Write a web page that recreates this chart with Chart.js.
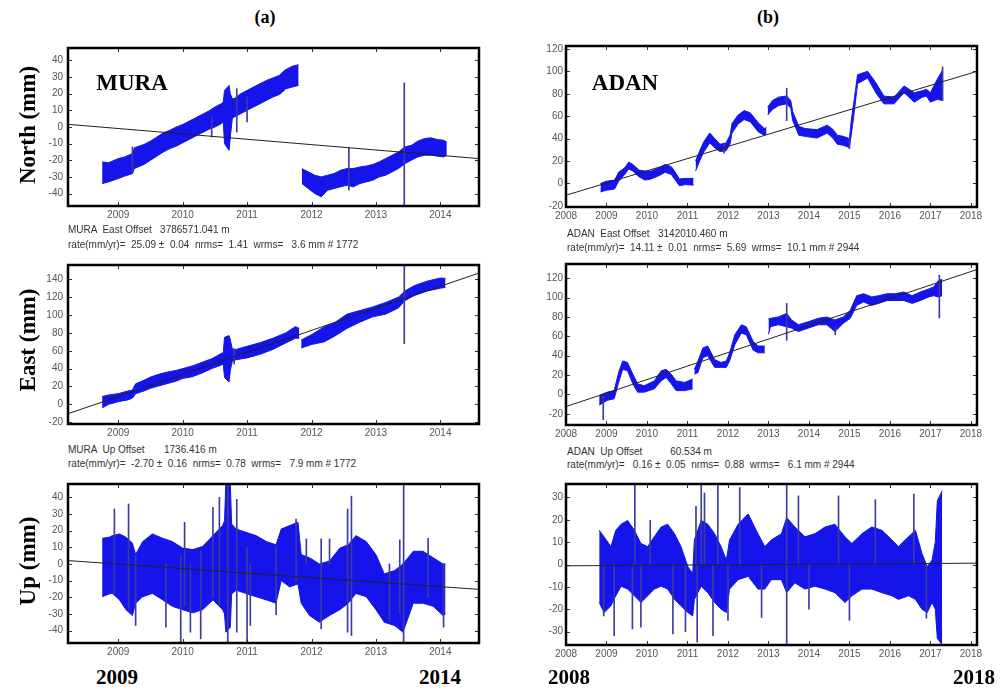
<!DOCTYPE html>
<html>
<head>
<meta charset="utf-8">
<script src="https://cdn.jsdelivr.net/npm/chart.js@4.4.0/dist/chart.umd.min.js"></script>
<style>
	body { margin: 0; background: #fff; width: 1000px; height: 693px; position: relative; overflow: hidden; }
	.txt { position: absolute; white-space: pre; line-height: 1; }
	.small { font-family: "Liberation Sans", Arial, sans-serif; font-size: 10px; color: #333; }
	.serif { font-family: "Liberation Serif", "Times New Roman", serif; font-weight: bold; color: #000; }
</style>
</head>
<body>
<script>
// tick labels
const muraYearTicks = [2009, 2010, 2011, 2012, 2013, 2014];
const adanYearTicks = [2008, 2009, 2010, 2011, 2012, 2013, 2014, 2015, 2016, 2017, 2018];
const muraNorthTicks = [-40, -30, -20, -10, 0, 10, 20, 30, 40];
const muraEastTicks = [-20, 0, 20, 40, 60, 80, 100, 120, 140];
const muraUpTicks = [-40, -30, -20, -10, 0, 10, 20, 30, 40];
const adanNorthTicks = [-20, 0, 20, 40, 60, 80, 100, 120];
const adanEastTicks = [-20, 0, 20, 40, 60, 80, 100, 120];
const adanUpTicks = [-30, -20, -10, 0, 10, 20, 30];

// MURA north (mm) - spread of the daily solutions, null = data gap
const muraNorthYears = [2008.75,2008.85,2009.0,2009.1,2009.22,2009.25,2009.4,2009.5,2009.6,2009.7,2009.8,2009.9,2010.0,2010.1,2010.2,2010.3,2010.4,2010.5,2010.6,2010.63,2010.65,2010.72,2010.74,2010.77,2010.8,2010.9,2011.0,2011.1,2011.2,2011.3,2011.4,2011.5,2011.55,2011.6,2011.7,2011.8,null,2011.85,2011.95,2012.05,2012.15,2012.25,2012.35,2012.45,2012.55,2012.65,2012.75,2012.85,2012.95,2013.05,2013.15,2013.25,2013.35,2013.45,2013.55,2013.65,2013.75,2013.85,2013.95,2014.05,2014.1];
const muraNorthLow = [-34,-33,-31,-29.5,-28,-25,-22.5,-20,-17.5,-15,-13,-11.5,-9.5,-7.5,-5.5,-3.5,-1.5,0,2,3,-10,-14,-6,5,6,8,10,12,14,16,18,19.5,21,23,24,25,null,-34,-37,-40,-42,-38,-37,-36,-35,-36,-34,-33,-32,-30,-29,-27,-25,-22,-20,-18,-17,-17,-17.5,-18,-17];
const muraNorthHigh = [-21,-21.5,-19,-18,-16,-12.5,-10.5,-8.5,-6,-3.5,-2,0,1.5,3.5,5.5,7.5,9.5,12,14,15,22,25,20,17,17,20,22,24,26,28,29.5,31,33,34.5,36.5,37.5,null,-25,-27,-29,-30,-29,-28,-26,-25,-25,-24,-23.5,-22.5,-21,-19,-17,-15,-12,-11,-8.5,-7,-6.5,-7.5,-8,-9];
const muraNorthSpikeYears = [2009.22, 2010.45, 2010.84, 2011.0, 2012.58, 2013.44];
const muraNorthSpikeLow = [-28, -6, -3, 3, -38, -48];
const muraNorthSpikeHigh = [-12, 6, 23, 18, -12.5, 26.5];
const muraNorthTrend = [1.6, -19];

// MURA east (mm)
const muraEastYears = [2008.75,2008.85,2009.0,2009.15,2009.22,2009.27,2009.4,2009.5,2009.6,2009.75,2009.9,2010.0,2010.15,2010.3,2010.45,2010.6,2010.63,2010.65,2010.72,2010.74,2010.77,2010.83,2011.0,2011.2,2011.4,2011.6,2011.75,2011.81,null,2011.84,2012.0,2012.2,2012.35,2012.55,2012.75,2012.95,2013.15,2013.35,2013.45,2013.6,2013.8,2014.0,2014.08];
const muraEastLow = [-4,0,3,5,7,12,15,18,20,23,26,29,31,35,40,44,45,30,25,38,48,50,52,56,61.5,68.7,74,74,null,63,67,70,76,85,92,98,101,108,116,122,127,130,131];
const muraEastHigh = [8.7,10.5,12,15,16,23,27,30.5,33,36,38,40,43,47,51,57,58,75,77,72,62,61.5,65,69,74,80,87,85,null,72,78,87,91,101,105,109,114,120,127,133,138,141.5,141];
const muraEastSpikeYears = [2010.8, 2013.44];
const muraEastSpikeLow = [45, 68];
const muraEastSpikeHigh = [62, 160];
const muraEastTrend = [-10.5, 147];

// MURA up (mm)
const muraUpYears = [2008.75,2008.86,2008.91,2009.02,2009.12,2009.22,2009.27,2009.38,2009.53,2009.69,2009.84,2010.0,2010.16,2010.31,2010.47,2010.62,2010.65,2010.67,2010.74,2010.76,2010.83,2010.98,2011.14,2011.3,2011.45,2011.53,2011.66,2011.79,2011.84,2011.97,2012.12,2012.28,2012.44,2012.57,2012.69,2012.85,2013.0,2013.13,2013.29,2013.42,2013.58,2013.73,2013.89,2014.04,2014.08];
const muraUpLow = [-19.7,-18,-17.7,-21.6,-27.5,-31,-23.6,-19.7,-17.7,-21.6,-25.5,-27.5,-29.4,-27.5,-21.6,-27.5,-30,-41,-38,-18,-15.8,-17.7,-19.7,-21.6,-23.6,-10,-13.8,-12,-23.6,-31,-35,-31,-27.5,-23.6,-17.7,-19.7,-27.5,-35,-37,-41,-23.6,-23.6,-25.5,-31,-30];
const muraUpHigh = [15.4,16,17,18,16,12.5,5.6,13.4,18,15.4,13.4,9.5,8.6,10.5,17,23,26,48,48,24,21,19,17,13.4,11.5,21,23,25,5.6,3.7,0,1.7,9.5,11.5,17,13.4,5.6,-6,-4,0,7.6,7.6,3.7,0,0];
const muraUpSpikeYears = [2008.94,2009.16,2009.27,2009.74,2009.97,2010.03,2010.12,2010.28,2010.47,2010.57,2010.7,2010.84,2011.0,2011.05,2011.45,2011.76,2011.92,2012.15,2012.28,2012.56,2012.62,2013.21,2013.37,2013.43,2013.81,2014.05];
const muraUpSpikeLow = [-18,-27,-37,-38,-48,-25,-41,-45,-20,-25,-48,-41,-48,-37,-30.5,-10,0,-39,0,-41,-43,-35,-30,-48,-20,-38];
const muraUpSpikeHigh = [33,36,5,0,5,25,0,8,34,40,48,38.8,10,0,10,27,15,15,15,33,40.7,0,14.4,48,15.4,0];
const muraUpTrend = [2, -15.3];

// ADAN north (mm)
const adanNorthYears = [2008.85,2009.0,2009.2,2009.3,2009.45,2009.55,2009.65,2009.8,2009.95,2010.1,2010.3,2010.45,2010.6,2010.7,2010.8,2010.95,2011.15,null,2011.2,2011.3,2011.4,2011.55,2011.7,2011.8,2011.95,2012.05,2012.1,2012.25,2012.4,2012.55,2012.75,2012.9,2012.95,null,2012.98,2013.1,2013.25,2013.45,2013.55,2013.6,2013.75,2013.9,2014.2,2014.45,2014.6,2014.7,2014.85,2015.0,2015.05,2015.1,2015.2,2015.45,2015.65,2015.85,2016.1,2016.35,2016.6,2016.8,2016.9,2017.0,2017.17,2017.3];
const adanNorthLow = [-7.5,-6,-5,2,8,13,11,6,3,4,7,10,8,3,-2,-1,-1.5,null,11,20,28,36,31,28.5,29,35,45,53,57,55,46,43,44,null,61,66,69.5,71,67,56,43,42,40.5,45,40,35,34,32,45,58,89,94,81,71,71,81,72.5,77,78,72.5,75,74];
const adanNorthHigh = [0,2,3,10,14,19,17,12,11,11,14,17,15,10,4,4.5,4.5,null,20,29,37,45,39,35,36,43,53.5,61,65,63,54,49,50,null,68,74,77,78,74,64,51,49,48,52,48,43,42,40,58,70,97,100,90,78,77,87,81,82.7,84,81,93,101];
const adanNorthSpikeYears = [2011.9, 2013.45, 2015.0, 2017.3];
const adanNorthSpikeLow = [27, 56, 31, 74];
const adanNorthSpikeHigh = [36, 85, 40, 104];
const adanNorthTrend = [-10.5, 100];

// ADAN east (mm)
const adanEastYears = [2008.82,2009.02,2009.19,2009.3,2009.4,2009.52,2009.65,2009.77,2009.93,2010.18,2010.35,2010.47,2010.6,2010.72,2010.93,2011.13,null,2011.17,2011.26,2011.38,2011.5,2011.67,2011.83,2011.96,2012.04,2012.17,2012.33,2012.45,2012.62,2012.74,2012.91,null,2013.0,2013.05,2013.24,2013.45,2013.57,2013.74,2013.98,2014.23,2014.44,2014.64,2014.85,2015.02,2015.18,2015.35,2015.55,2015.72,2015.93,2016.13,2016.34,2016.55,2016.75,2016.96,2017.08,2017.2,2017.29];
const adanEastLow = [-11,-6,-4.4,12.5,26,24.4,11,2.4,2.4,5.8,14,17.6,11,4,4,5.8,null,21,22.7,38,40,28,28,28,34.6,51.5,63.4,61.7,46,43,43,null,62,70,72,70,68.5,65,68.5,72,72,65,73.6,78.6,92,95.6,92,94,97,97,97,94,97,100.7,102,100.7,102];
const adanEastHigh = [-1,2.4,4,22.7,34.6,33,21,11,9,14,24.4,26,21,14,12.5,16,null,26,34.6,48,50,36,33,34.6,43,61.7,71.9,70,55,50,50,null,78,78.6,80,83.7,77,72,75,78.6,80,77,80,87,102,104,100.7,102,104,104,105.8,102,105.8,109,111,117.6,119];
const adanEastSpikeYears = [2008.92, 2013.45, 2014.65, 2017.22];
const adanEastSpikeLow = [-26, 56, 61.7, 79];
const adanEastSpikeHigh = [-2, 94, 70, 123];
const adanEastTrend = [-12.5, 129];

// ADAN up (mm)
const adanUpYears = [2008.82,2008.94,2009.11,2009.23,2009.36,2009.52,2009.69,2009.85,2010.02,2010.18,2010.35,2010.51,2010.68,2010.84,2011.01,2011.13,2011.17,2011.34,2011.5,2011.67,2011.83,2011.96,2012.04,2012.25,2012.5,2012.74,2012.91,2013.07,2013.32,2013.45,2013.65,2013.9,2014.15,2014.4,2014.64,2014.89,2015.06,2015.31,2015.55,2015.8,2016.05,2016.21,2016.46,2016.63,2016.79,2016.92,2017.04,2017.12,2017.17,2017.29];
const adanUpLow = [-17,-21.5,-18.5,-14,-9.7,-11,-14,-17,-14,-11,-9.7,-11,-15.6,-18.5,-21.5,-23,-15.6,-9.7,-12.6,-17,-20,-21.5,-11,-6.8,-5.3,-11,-11,-6.8,-6.8,-12.6,-8.2,-11,-9.7,-11,-12.6,-17,-14,-11,-11,-12.6,-14,-15.6,-14,-15.6,-20,-21.5,-17,-20,-33,-36];
const adanUpHigh = [15.3,12.4,8,15.3,18,19.7,15.3,9.4,8,12.4,16.8,18,13.8,8,-1,-4,11,19.7,18,13.8,8,2,11,18,22.6,13.8,8,11,13.8,21,16.8,12.4,13.8,16.8,18,12.4,9.4,13.8,16.8,15.3,11,8,12.4,15.3,5,-1,2,10,28.5,33];
const adanUpSpikeYears = [2008.93,2009.19,2009.64,2009.7,2009.85,2010.08,2010.64,2010.95,2011.21,2011.24,2011.34,2011.42,2011.63,2011.75,2012.0,2012.29,2012.83,2013.45,2013.74,2014.0,2014.73,2015.0,2015.64,2016.59,2016.9];
const adanUpSpikeLow = [-23,-31.8,-28.8,0,-28,0,-31,-30,0,-34.7,0,0,-31.8,0,-25,0,-23.7,-37,0,-20,0,-25,0,0,-24];
const adanUpSpikeHigh = [0,0,0,37,0,19.7,0,0,26,0,37,32,0,37,0,34.4,0,37,30.7,0,30.7,0,29,31.5,0];
const adanUpTrend = [-0.6, 0.6];

const BLUE = 'rgb(20, 20, 235)';
const NAVY = 'rgb(60, 60, 160)';

const framePlugin = {
	id: 'frame',
	afterDatasetsDraw(chart) {
		const { ctx, chartArea: a, scales } = chart;
		ctx.save();
		ctx.strokeStyle = '#333';
		ctx.lineWidth = 1;
		ctx.beginPath();
		scales.x.ticks.forEach(t => {
			const px = Math.round(scales.x.getPixelForValue(t.value)) + 0.5;
			ctx.moveTo(px, a.bottom); ctx.lineTo(px, a.bottom - 4);
			ctx.moveTo(px, a.top); ctx.lineTo(px, a.top + 4);
		});
		scales.y.ticks.forEach(t => {
			const py = Math.round(scales.y.getPixelForValue(t.value)) + 0.5;
			ctx.moveTo(a.left, py); ctx.lineTo(a.left + 4, py);
			ctx.moveTo(a.right, py); ctx.lineTo(a.right - 4, py);
		});
		ctx.stroke();
		ctx.lineWidth = 2.5;
		ctx.strokeStyle = '#000';
		ctx.strokeRect(a.left, a.top, a.right - a.left, a.bottom - a.top);
		ctx.restore();
	}
};

function splitSegments(years, low, high) {
	const segs = [];
	let cur = null;
	years.forEach((t, i) => {
		if (t === null) { cur = null; return; }
		if (!cur) { cur = { hi: [], lo: [] }; segs.push(cur); }
		cur.hi.push({ x: t, y: high[i] });
		cur.lo.push({ x: t, y: low[i] });
	});
	return segs;
}

function makePanel(p) {
	const padL = 44, padT = 6, padR = 10, padB = 20;
	const w = p.box.w + padL + padR;
	const h = p.box.h + padT + padB;
	const cv = document.createElement('canvas');
	cv.width = w; cv.height = h;
	cv.style.cssText = `position:absolute;left:${p.box.x - padL}px;top:${p.box.y - padT}px;width:${w}px;height:${h}px`;
	document.body.appendChild(cv);

	const datasets = [];
	datasets.push({
		type: 'line',
		data: [{ x: p.xRange[0], y: p.trend[0] }, { x: p.xRange[1], y: p.trend[1] }],
		borderColor: '#222', borderWidth: 1, pointRadius: 0, fill: false
	});
	datasets.push({
		type: 'bar',
		data: p.spikeYears.map((t, i) => ({ x: t, y: [p.spikeLow[i], p.spikeHigh[i]] })),
		backgroundColor: NAVY, barThickness: 1, grouped: false
	});
	splitSegments(p.years, p.low, p.high).forEach(seg => {
		datasets.push({ type: 'line', data: seg.hi, borderColor: BLUE, borderWidth: 1, pointRadius: 0, fill: false });
		datasets.push({ type: 'line', data: seg.lo, borderColor: BLUE, borderWidth: 1, pointRadius: 0, fill: '-1', backgroundColor: BLUE });
	});

	const tickFont = { family: 'Liberation Sans', size: 10 };
	new Chart(cv, {
		type: 'line',
		data: { datasets },
		options: {
			responsive: false,
			animation: false,
			devicePixelRatio: 1,
			layout: { padding: { left: 0, top: padT, right: padR, bottom: 0 } },
			plugins: { legend: { display: false }, tooltip: { enabled: false } },
			scales: {
				x: {
					type: 'linear', min: p.xRange[0], max: p.xRange[1], offset: false,
					grid: { display: false, drawTicks: false }, border: { display: false },
					afterBuildTicks: s => { s.ticks = p.xTicks.map(v => ({ value: v })); },
					afterFit: s => { s.height = padB; },
					ticks: { font: tickFont, color: '#555', padding: 3, maxRotation: 0, autoSkip: false, callback: v => String(v) }
				},
				y: {
					type: 'linear', min: p.yRange[0], max: p.yRange[1],
					grid: { display: false, drawTicks: false }, border: { display: false },
					afterBuildTicks: s => { s.ticks = p.yTicks.map(v => ({ value: v })); },
					afterFit: s => { s.width = padL; },
					ticks: { font: tickFont, color: '#555', padding: p.yPad, autoSkip: false, callback: v => String(v) }
				}
			}
		},
		plugins: [framePlugin]
	});
}

const panels = [
	{ box: { x: 68, y: 43, w: 411, h: 163 }, xRange: [2008.22, 2014.6], yRange: [-47.5, 47.5], xTicks: muraYearTicks, yTicks: muraNorthTicks, yPad: 5,
		years: muraNorthYears, low: muraNorthLow, high: muraNorthHigh, spikeYears: muraNorthSpikeYears, spikeLow: muraNorthSpikeLow, spikeHigh: muraNorthSpikeHigh, trend: muraNorthTrend },
	{ box: { x: 68, y: 260, w: 411, h: 164 }, xRange: [2008.22, 2014.6], yRange: [-22, 156], xTicks: muraYearTicks, yTicks: muraEastTicks, yPad: 5,
		years: muraEastYears, low: muraEastLow, high: muraEastHigh, spikeYears: muraEastSpikeYears, spikeLow: muraEastSpikeLow, spikeHigh: muraEastSpikeHigh, trend: muraEastTrend },
	{ box: { x: 68, y: 479, w: 411, h: 164 }, xRange: [2008.22, 2014.6], yRange: [-47.5, 48], xTicks: muraYearTicks, yTicks: muraUpTicks, yPad: 5,
		years: muraUpYears, low: muraUpLow, high: muraUpHigh, spikeYears: muraUpSpikeYears, spikeLow: muraUpSpikeLow, spikeHigh: muraUpSpikeHigh, trend: muraUpTrend },
	{ box: { x: 566, y: 43, w: 411, h: 164 }, xRange: [2008.0, 2018.15], yRange: [-21, 122.6], xTicks: adanYearTicks, yTicks: adanNorthTicks, yPad: 3,
		years: adanNorthYears, low: adanNorthLow, high: adanNorthHigh, spikeYears: adanNorthSpikeYears, spikeLow: adanNorthSpikeLow, spikeHigh: adanNorthSpikeHigh, trend: adanNorthTrend },
	{ box: { x: 566, y: 261, w: 411, h: 164 }, xRange: [2008.0, 2018.15], yRange: [-31.5, 134.7], xTicks: adanYearTicks, yTicks: adanEastTicks, yPad: 3,
		years: adanEastYears, low: adanEastLow, high: adanEastHigh, spikeYears: adanEastSpikeYears, spikeLow: adanEastSpikeLow, spikeHigh: adanEastSpikeHigh, trend: adanEastTrend },
	{ box: { x: 566, y: 481, w: 411, h: 164 }, xRange: [2008.0, 2018.15], yRange: [-36, 36], xTicks: adanYearTicks, yTicks: adanUpTicks, yPad: 3,
		years: adanUpYears, low: adanUpLow, high: adanUpHigh, spikeYears: adanUpSpikeYears, spikeLow: adanUpSpikeLow, spikeHigh: adanUpSpikeHigh, trend: adanUpTrend }
];
panels.forEach(makePanel);

// text around the panels
function addText(str, cls, x, y, size, opts = {}) {
	const d = document.createElement('div');
	d.className = 'txt ' + cls;
	d.textContent = str;
	d.style.fontSize = size + 'px';
	d.style.left = x + 'px';
	d.style.top = y + 'px';
	let tf = opts.center ? 'translate(-50%, -50%)' : 'translateY(-50%)';
	if (opts.rotate) tf += ' rotate(-90deg)';
	d.style.transform = tf;
	document.body.appendChild(d);
}

addText('(a)', 'serif', 265, 17, 18, { center: true });
addText('(b)', 'serif', 768, 17, 18, { center: true });
addText('North (mm)', 'serif', 27, 125, 23, { center: true, rotate: true });
addText('East (mm)', 'serif', 27, 340, 23, { center: true, rotate: true });
addText('Up (mm)', 'serif', 27, 561, 23, { center: true, rotate: true });
addText('MURA', 'serif', 132, 82, 23, { center: true });
addText('ADAN', 'serif', 625, 82, 23, { center: true });

addText('MURA  East Offset   3786571.041 m', 'small', 68, 230, 10);
addText('rate(mm/yr)=  25.09 \u00b1  0.04  nrms=  1.41  wrms=   3.6 mm # 1772', 'small', 68, 245, 10);
addText('MURA  Up Offset       1736.416 m', 'small', 68, 450, 10);
addText('rate(mm/yr)=  -2.70 \u00b1  0.16  nrms=  0.78  wrms=   7.9 mm # 1772', 'small', 68, 464, 10);
addText('ADAN  East Offset   3142010.460 m', 'small', 567, 234, 10);
addText('rate(mm/yr)=  14.11 \u00b1  0.01  nrms=  5.69  wrms=  10.1 mm # 2944', 'small', 567, 248, 10);
addText('ADAN  Up Offset          60.534 m', 'small', 567, 452, 10);
addText('rate(mm/yr)=   0.16 \u00b1  0.05  nrms=  0.88  wrms=   6.1 mm # 2944', 'small', 567, 465, 10);

addText('2009', 'serif', 117, 677, 21, { center: true });
addText('2014', 'serif', 440, 677, 21, { center: true });
addText('2008', 'serif', 569, 677, 21, { center: true });
addText('2018', 'serif', 974, 677, 21, { center: true });
</script>
</body>
</html>
